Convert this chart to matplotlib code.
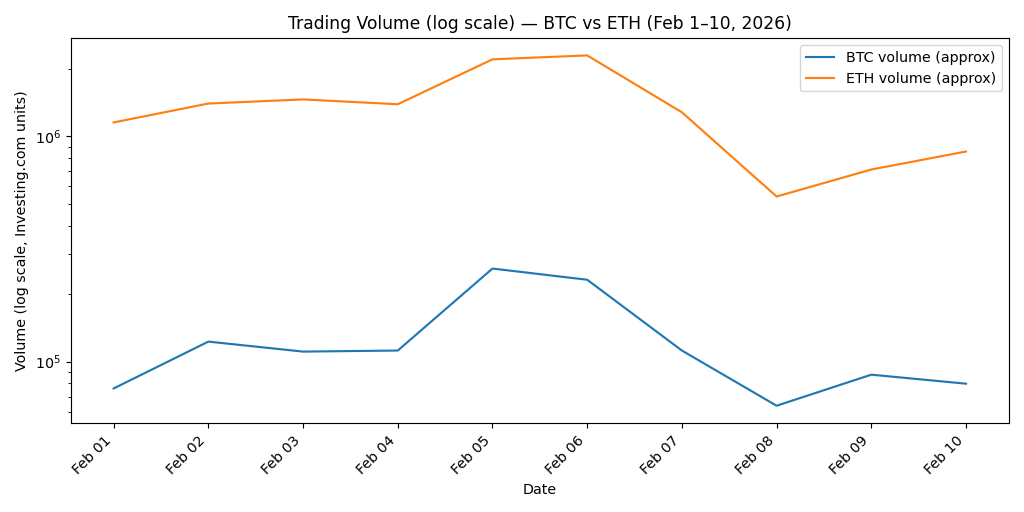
import matplotlib
matplotlib.use("Agg")
import matplotlib.pyplot as plt

dates = ["Feb 01", "Feb 02", "Feb 03", "Feb 04", "Feb 05",
         "Feb 06", "Feb 07", "Feb 08", "Feb 09", "Feb 10"]
btc_volume = [76000, 122700, 110800, 112000, 259000,
              231000, 112000, 63700, 87500, 79800]
eth_volume = [1154000, 1400000, 1460000, 1390000, 2200000,
              2290000, 1280000, 541000, 713000, 857000]

fig, ax = plt.subplots(figsize=(10, 5), dpi=102.4)
ax.plot(dates, btc_volume, label="BTC volume (approx)")
ax.plot(dates, eth_volume, label="ETH volume (approx)")
ax.set_yscale("log")
ax.set_title("Trading Volume (log scale) \u2014 BTC vs ETH (Feb 1\u201310, 2026)")
ax.set_xlabel("Date")
ax.set_ylabel("Volume (log scale, Investing.com units)")
ax.legend(loc="upper right")
plt.setp(ax.get_xticklabels(), rotation=45, ha="right")
fig.tight_layout()
fig.savefig("out.png")
